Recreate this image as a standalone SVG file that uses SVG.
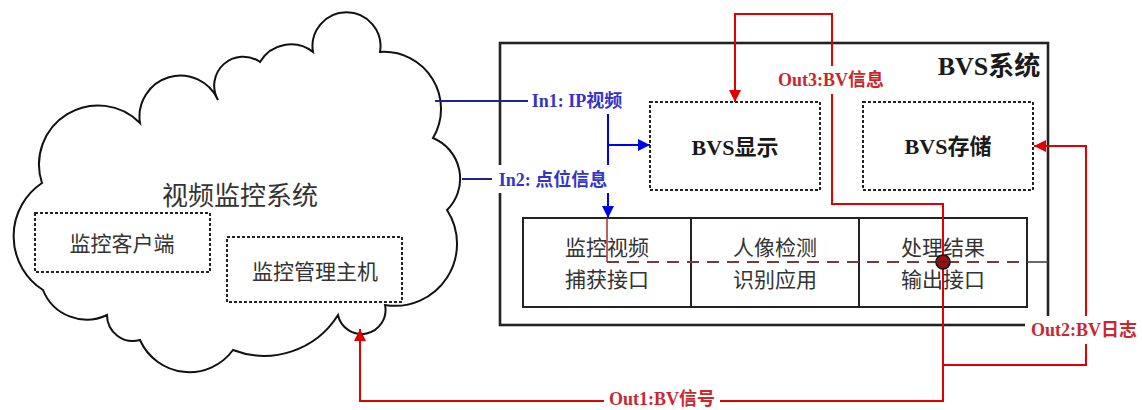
<svg xmlns="http://www.w3.org/2000/svg" width="1142" height="410" viewBox="0 0 1142 410">
<defs>
<style>
.cloud{fill:#fff;stroke:#111;stroke-width:2}
.dbox{fill:none;stroke:#222;stroke-width:2;stroke-dasharray:3 2}
.solid{fill:none;stroke:#222;stroke-width:2}
.outer{fill:none;stroke:#222;stroke-width:2.6}
.cn{font-family:"Noto Sans CJK SC","Liberation Sans",sans-serif;fill:#333;text-anchor:middle;dominant-baseline:central}
.bold{font-family:"Liberation Serif","Noto Sans CJK SC",serif;font-weight:bold;fill:#1a1a1a;text-anchor:middle;dominant-baseline:central}
.lbl{font-family:"Liberation Serif","Noto Sans CJK SC",serif;font-weight:bold;font-size:18px;text-anchor:middle;dominant-baseline:central}
.blueT{fill:#3434c8}
.redT{fill:#c8282d}
.red{fill:none;stroke:#e00000;stroke-width:2}
.navy{fill:none;stroke:#23238f;stroke-width:2}
.blue{fill:none;stroke:#0000f0;stroke-width:2}
.bg{fill:#fff}
</style>
<marker id="ar" viewBox="0 0 10 10" refX="10" refY="5" markerWidth="6" markerHeight="6" markerUnits="strokeWidth" orient="auto"><path d="M0,0 L10,5 L0,10 z" fill="#e00000"/></marker>
<marker id="ab" viewBox="0 0 10 10" refX="10" refY="5" markerWidth="6" markerHeight="6" markerUnits="strokeWidth" orient="auto"><path d="M0,0 L10,5 L0,10 z" fill="#0000f0"/></marker>
</defs>
<rect width="1142" height="410" fill="#fff"/>

<g id="cloud-system">
<path class="cloud" d="M 42 183 A 59 59 0 0 1 140 123 A 41 41 0 0 1 218 100 A 29 29 0 0 1 260 62 A 36 36 0 0 1 313 52 A 34 34 0 1 1 380 52 A 57 57 0 0 1 433 138 A 44 44 0 0 1 447 210 A 62 62 0 0 1 385 305 A 24 24 0 0 1 338 315 A 87 87 0 0 1 233 350 A 54 54 0 0 1 140 340 A 26 26 0 0 1 107 315 A 47 47 0 0 1 43 290 A 64 64 0 0 1 42 183 Z"/>
<text class="cn" x="240" y="193" font-size="26">视频监控系统</text>
</g>
<g id="client">
<rect class="dbox" x="35" y="213" width="175" height="59"/>
<text class="cn" x="122" y="242" font-size="21">监控客户端</text>
</g>
<g id="host">
<rect class="dbox" x="227" y="237" width="175" height="65"/>
<text class="cn" x="315" y="270" font-size="21">监控管理主机</text>
</g>

<g id="bvs-system">
<rect class="outer" x="500" y="43" width="548" height="282"/>
<text class="bold" x="989" y="66" font-size="26">BVS系统</text>
</g>
<g id="bvs-display">
<rect class="dbox" x="650" y="102" width="170" height="88"/>
<text class="bold" x="735" y="147" font-size="22">BVS显示</text>
</g>
<g id="bvs-storage">
<rect class="dbox" x="863" y="102" width="170" height="88"/>
<text class="bold" x="948" y="146" font-size="22">BVS存储</text>
</g>
<g id="capture">
<rect class="solid" x="523" y="218" width="168" height="89"/>
<text class="cn" x="607" y="246" font-size="21">监控视频</text>
<text class="cn" x="607" y="278" font-size="21">捕获接口</text>
</g>
<g id="detect">
<rect class="solid" x="691" y="218" width="168" height="89"/>
<text class="cn" x="775" y="246" font-size="21">人像检测</text>
<text class="cn" x="775" y="278" font-size="21">识别应用</text>
</g>
<g id="output">
<rect class="solid" x="859" y="218" width="168" height="89"/>
<text class="cn" x="943" y="246" font-size="21">处理结果</text>
<text class="cn" x="943" y="278" font-size="21">输出接口</text>
</g>

<g id="connectors">
<path d="M 607 218 V 262" fill="none" stroke="#a02020" stroke-width="1.4"/>
<path d="M 607 262 H 1027" fill="none" stroke="#7a3a3a" stroke-width="2" stroke-dasharray="12 8"/>
<path d="M 1027 262 H 1048" fill="none" stroke="#444" stroke-width="1.6"/>

<path class="navy" d="M 435 101 H 530"/>
<path class="navy" d="M 462 179 H 495"/>
<path class="blue" d="M 608 114 V 165"/>
<path class="blue" d="M 608 145 H 650" marker-end="url(#ab)"/>
<path class="blue" d="M 608 193 V 218" marker-end="url(#ab)"/>

<path class="red" d="M 943 262 V 204 H 832 V 14 H 735 V 102" marker-end="url(#ar)"/>
<path class="red" d="M 943 262 V 401 H 360 V 329" marker-end="url(#ar)"/>
<path class="red" d="M 943 365 H 1086 V 146 H 1034" marker-end="url(#ar)"/>

<circle cx="943" cy="262" r="7" fill="#a00d0d" stroke="#111" stroke-width="1.6"/>
<line x1="936" y1="262" x2="950" y2="262" stroke="#333" stroke-width="1.4"/>

<rect class="bg" x="528" y="89" width="98" height="25"/>
<text class="lbl blueT" x="577" y="101">In1: IP视频</text>
<rect class="bg" x="492" y="165" width="122" height="28"/>
<text class="lbl blueT" x="553" y="180">In2: 点位信息</text>

<rect class="bg" x="771" y="66" width="120" height="28"/>
<text class="lbl redT" x="831" y="80">Out3:BV信息</text>
<rect class="bg" x="1025" y="316" width="117" height="28"/>
<text class="lbl redT" x="1084" y="330">Out2:BV日志</text>
<rect class="bg" x="604" y="391" width="116" height="19"/>
<text class="lbl redT" x="662" y="399" font-size="17">Out1:BV信号</text>
</g>
</svg>
